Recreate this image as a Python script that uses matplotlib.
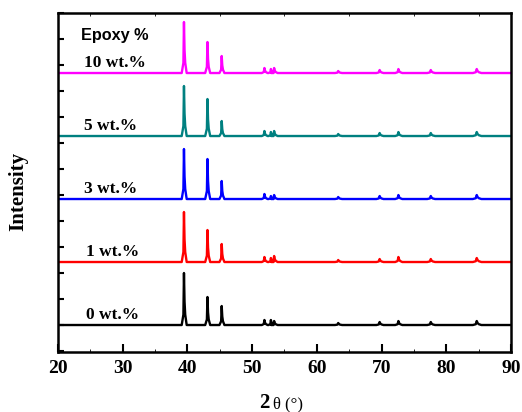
import matplotlib
matplotlib.use("Agg")
import matplotlib.pyplot as plt
from matplotlib.ticker import MultipleLocator

# sample labels and colours (bottom to top)
samples = ["0 wt.%", "1 wt.%", "3 wt.%", "5 wt.%", "10 wt.%"]
colors = ["black", "red", "blue", "#008080", "#ff00ff"]

# peak positions (2theta, deg) and approximate half-widths
peak_pos = [39.47, 43.1, 45.3, 51.9, 52.9, 53.4, 63.3, 69.7, 72.6, 77.6, 84.7]
peak_w = [0.35, 0.35, 0.35, 0.4, 0.35, 0.45, 0.5, 0.5, 0.5, 0.55, 0.6]

# peak heights (a.u.)
h_0 = [52, 28, 19, 5, 5, 4, 2, 3, 4, 3, 4]
h_1 = [50, 32, 18, 5, 4, 6, 2, 3, 5, 3, 4]
h_3 = [50, 40, 18, 5, 3, 4, 2, 3, 4, 3, 4]
h_5 = [50, 37, 15, 5, 4, 5, 2, 3, 4, 3, 4]
h_10 = [51, 31, 17, 5, 4, 5, 2, 3, 4, 3, 4]
heights = [h_0, h_1, h_3, h_5, h_10]

step = 63


def pattern(hs):
    # polyline through baseline, peak apex and the K-alpha2 shoulder
    xs = [20.0]
    ys = [0.0]
    for p, w, h in zip(peak_pos, peak_w, hs):
        xs += [p - w, p - 0.25 * w, p, p + 0.25 * w, p + 0.55 * w, p + 1.2 * w]
        ys += [0, 0.2 * h, h, 0.45 * h, 0.2 * h, 0]
    xs.append(90.0)
    ys.append(0.0)
    return xs, ys


plt.rcParams['font.family'] = ['Liberation Serif', 'DejaVu Serif']
fig = plt.figure(figsize=(5.22, 4.12), dpi=100)
ax = fig.add_axes([0.111, 0.1456, 0.868, 0.8228])

for i in range(len(samples)):
    x, y = pattern(heights[i])
    y = [v + i * step for v in y]
    ax.plot(x, y, color=colors[i], lw=1.7)

ax.set_xlim(20, 90)
ax.set_ylim(-27, 312)
ax.xaxis.set_major_locator(MultipleLocator(10))
ax.xaxis.set_minor_locator(MultipleLocator(5))
ax.yaxis.set_major_locator(MultipleLocator(26))
ax.tick_params(axis='x', which='major', direction='in', length=6, width=1.5,
               labelsize=14, pad=6, top=False)
ax.tick_params(axis='x', which='minor', direction='in', length=2, width=0.6,
               top=True)
ax.tick_params(axis='y', which='major', direction='in', length=4, width=1.5,
               labelleft=False)
for lab in ax.get_xticklabels():
    lab.set_fontweight('bold')
for s in ax.spines.values():
    s.set_linewidth(1.8)

# sample labels
label_x = [24.3, 24.3, 24.0, 24.0, 24.0]
for i, s in enumerate(samples):
    ax.text(label_x[i], i * step + 6, s, fontsize=12.5, fontweight='bold',
            ha='left', va='baseline')
ax.text(23.5, 285, "Epoxy %", fontsize=11.7, fontweight='bold',
        family=['Liberation Sans', 'DejaVu Sans'], ha='left', va='baseline')

fig.text(18 / 522, 1 - 191 / 412, "Intensity", rotation=90, fontsize=15,
         fontweight='bold', ha='center', va='center')
fig.text(270 / 522, 1 - 408 / 412, "2", fontsize=15, fontweight='bold',
         ha='right', va='baseline')
fig.text(273 / 522, 1 - 408 / 412, "θ (°)", fontsize=12, ha='left',
         va='baseline')

fig.savefig("out.png", dpi=100)
